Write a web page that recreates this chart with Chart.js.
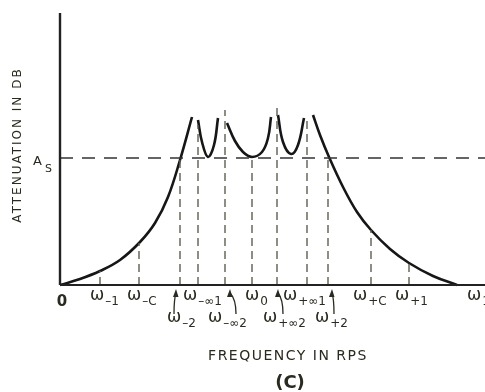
<!DOCTYPE html>
<html>
<head>
<meta charset="utf-8">
<script src="https://cdn.jsdelivr.net/npm/chart.js@4.4.1/dist/chart.umd.min.js"></script>
<style>
  html, body { margin: 0; padding: 0; background: #fff; }
  canvas { display: block; }
</style>
</head>
<body>
<canvas id="chart" width="485" height="392"></canvas>
<script>
// ===== values (arbitrary units) =====
const X_MAX = 425;
const Y_MAX = 272;
const A_S   = 127;

// attenuation curve, five pieces
const skirtLoX = [0, 20, 40, 60, 80, 95, 108, 120, 132];
const skirtLoY = [0, 6, 14, 25, 43, 62, 88, 125, 168];
const lobe1X   = [138, 142, 148, 154, 158];
const lobe1Y   = [165, 143, 128, 140, 167];
const lobe2X   = [167, 175, 183, 192, 202, 208, 211];
const lobe2Y   = [162, 144, 133, 128, 133, 147, 168];
const lobe3X   = [218, 223, 231, 238, 244];
const lobe3Y   = [170, 143, 131, 140, 167];
const skirtHiX = [253, 260, 269, 283, 297, 311, 330, 349, 373, 397];
const skirtHiY = [170, 150, 128, 98, 73, 55, 36, 22, 9, 0];

// dashed drop lines at the marked frequencies
const markX   = [40, 79, 120, 138, 165, 192, 217, 247, 268, 311, 349];
const markTop = [14, 42, 125, 160, 175, 128, 178, 168, 128, 55, 22];

// frequency labels (omega + subscript)
const tickSub    = ['–1', '–C', '–2', '–∞1', '–∞2', '0', '+∞1', '+∞2', '+2', '+C', '+1', '1'];
const tickLabelX = [30, 67, 107, 123, 148, 185, 223, 203, 255, 293, 335, 407];
const tickRow    = [0, 0, 1, 0, 1, 0, 0, 1, 1, 0, 0, 0];

// little arrows from second-row labels up to the axis
const arrowX    = [116, 170, 218, 272];
const arrowBend = [-2, 6, 5, 2];

// ===== styles =====
const INK   = '#2a2a20';
const CURVE = '#161616';
const DASH  = '#5e5e50';

const pts = (xs, ys) => xs.map((v, i) => ({ x: v, y: ys[i] }));

const curve = (xs, ys) => ({
  data: pts(xs, ys),
  showLine: true,
  borderColor: CURVE,
  borderWidth: 2.6,
  pointRadius: 0,
  tension: 0.4,
  clip: false
});

const datasets = [
  // axes
  { data: [{ x: 0, y: 0 }, { x: 0, y: Y_MAX }], showLine: true, borderColor: '#222', borderWidth: 2.4, pointRadius: 0, clip: false },
  { data: [{ x: 0, y: 0 }, { x: X_MAX, y: 0 }], showLine: true, borderColor: '#222', borderWidth: 2, pointRadius: 0, clip: false },
  // A_s level
  { data: [{ x: 0, y: A_S }, { x: X_MAX, y: A_S }], showLine: true, borderColor: '#333', borderWidth: 1.6, borderDash: [13, 9], pointRadius: 0, clip: false }
];

markX.forEach((m, i) => datasets.push({
  data: [{ x: m, y: 0 }, { x: m, y: markTop[i] }],
  showLine: true, borderColor: DASH, borderWidth: 1.4, borderDash: [8, 5], pointRadius: 0, clip: false
}));

datasets.push(
  curve(skirtLoX, skirtLoY),
  curve(lobe1X, lobe1Y),
  curve(lobe2X, lobe2Y),
  curve(lobe3X, lobe3Y),
  curve(skirtHiX, skirtHiY)
);

// ===== text, arrows =====
const annot = {
  id: 'annot',
  afterDatasetsDraw(chart) {
    const { ctx, scales: { x, y } } = chart;
    const base = y.getPixelForValue(0);
    ctx.save();
    ctx.fillStyle = INK;
    ctx.strokeStyle = INK;

    // origin
    ctx.font = 'bold 15px "DejaVu Sans"';
    ctx.textAlign = 'center';
    ctx.fillText('0', x.getPixelForValue(0) + 2, base + 21);

    // omega labels
    ctx.textAlign = 'left';
    tickSub.forEach((s, i) => {
      const px = x.getPixelForValue(tickLabelX[i]);
      const bl = base + (tickRow[i] ? 37 : 15);
      ctx.font = '17px "DejaVu Sans"';
      ctx.fillText('ω', px, bl);
      const w = ctx.measureText('ω').width;
      ctx.font = '12px "DejaVu Sans"';
      ctx.fillText(s, px + w + 1, bl + 5);
    });

    // arrows
    ctx.lineWidth = 1.3;
    arrowX.forEach((a, i) => {
      const tx = x.getPixelForValue(a);
      const ty = base + 4;
      const bx = tx + arrowBend[i];
      const by = base + 29;
      ctx.beginPath();
      ctx.moveTo(bx, by);
      ctx.quadraticCurveTo(bx, ty + 10, tx, ty + 4);
      ctx.stroke();
      ctx.beginPath();
      ctx.moveTo(tx, ty);
      ctx.lineTo(tx - 3, ty + 8);
      ctx.lineTo(tx + 2.5, ty + 8);
      ctx.closePath();
      ctx.fill();
    });

    // A_s
    const ya = y.getPixelForValue(A_S);
    ctx.font = '13px "DejaVu Sans"';
    ctx.fillText('A', 33, ya + 7);
    ctx.font = '11px "DejaVu Sans"';
    ctx.fillText('S', 45, ya + 14);

    // axis titles
    ctx.textAlign = 'center';
    ctx.letterSpacing = '1.5px';
    ctx.font = '14px "DejaVu Sans"';
    ctx.fillText('FREQUENCY IN RPS', 288, 360);
    ctx.save();
    ctx.translate(21, 145);
    ctx.rotate(-Math.PI / 2);
    ctx.letterSpacing = '2px';
    ctx.font = '12px "DejaVu Sans"';
    ctx.fillText('ATTENUATION IN DB', 0, 0);
    ctx.restore();
    ctx.letterSpacing = '0px';
    ctx.font = 'bold 18px "DejaVu Sans"';
    ctx.fillText('(C)', 290, 388);
    ctx.restore();
  }
};

new Chart(document.getElementById('chart'), {
  type: 'scatter',
  data: { datasets },
  options: {
    responsive: false,
    animation: false,
    devicePixelRatio: 1,
    layout: { padding: { left: 60, right: 0, top: 13, bottom: 107 } },
    plugins: { legend: { display: false }, tooltip: { enabled: false } },
    scales: {
      x: { type: 'linear', min: 0, max: X_MAX, display: false },
      y: { type: 'linear', min: 0, max: Y_MAX, display: false }
    }
  },
  plugins: [annot]
});
</script>
</body>
</html>
